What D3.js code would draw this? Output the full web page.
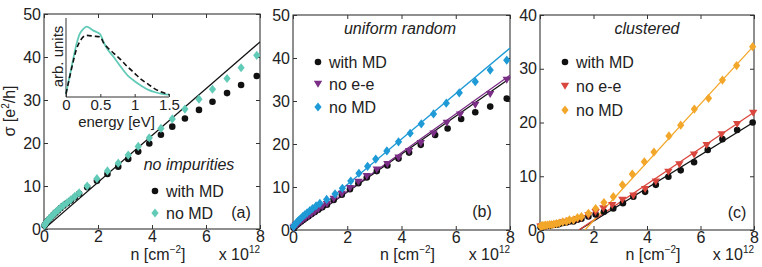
<!DOCTYPE html>
<html>
<head>
<meta charset="utf-8">
<script src="https://cdn.jsdelivr.net/npm/d3@7"></script>
<style>
  body { margin: 0; background: #fff; }
  svg { font-family: "Liberation Sans", Arial, Helvetica, sans-serif; }
  text { fill: #222; }
</style>
</head>
<body>
<div id="chart"></div>
<script>
// conductivity vs carrier density, three panels (a) (b) (c)
var W = 762
var H = 267
var FS = 16

// colors
var cBlack = '#111111'
var cTeal = '#62cbb8'
var cBlue = '#1e9ad6'
var cPurple = '#7a2e85'
var cRed = '#d9463d'
var cOrange = '#f3a72a'

// ---- panel (a): no impurities ----
var aWithMD = [[0.02, 0.8], [0.05, 1.1], [0.09, 1.5], [0.14, 1.9], [0.2, 2.3], [0.27, 2.8], [0.35, 3.3],
  [0.43, 3.8], [0.52, 4.3], [0.62, 4.9], [0.72, 5.4], [0.85, 6.0], [0.99, 6.6], [1.14, 7.4], [1.3, 8.2],
  [1.6, 9.7], [1.96, 11.2], [2.35, 12.8], [2.75, 14.5], [3.12, 16.3], [3.49, 18.0], [3.9, 19.9],
  [4.33, 21.9], [4.75, 23.8], [5.22, 25.7], [5.74, 27.7], [6.24, 29.6], [6.78, 31.6], [7.3, 33.5], [7.88, 35.6]]
var aNoMD = [[0.02, 0.9], [0.05, 1.2], [0.09, 1.6], [0.14, 2.0], [0.2, 2.4], [0.27, 2.9], [0.35, 3.4],
  [0.43, 3.9], [0.52, 4.4], [0.62, 5.0], [0.72, 5.5], [0.85, 6.1], [0.99, 6.8], [1.14, 7.6], [1.3, 8.4],
  [1.6, 10.0], [1.96, 11.7], [2.35, 13.5], [2.75, 15.3], [3.12, 17.2], [3.49, 19.2], [3.9, 21.2],
  [4.33, 23.4], [4.75, 25.6], [5.22, 27.9], [5.74, 30.2], [6.24, 32.5], [6.78, 35.0], [7.3, 37.5], [7.88, 40.4]]
var aFit = [[0, 0], [8, 43.5]]

// inset: energy distribution
var insetNoMD = [[0, 0.04], [0.05, 0.25], [0.1, 0.46], [0.15, 0.66], [0.2, 0.8], [0.25, 0.86], [0.3, 0.89],
  [0.35, 0.87], [0.4, 0.84], [0.45, 0.82], [0.5, 0.79], [0.55, 0.69], [0.6, 0.61], [0.7, 0.5], [0.8, 0.38],
  [0.9, 0.27], [1.0, 0.2], [1.1, 0.14], [1.2, 0.09], [1.3, 0.06], [1.4, 0.04], [1.5, 0.03]]
var insetWithMD = [[0, 0.04], [0.05, 0.24], [0.1, 0.43], [0.15, 0.6], [0.2, 0.7], [0.25, 0.76], [0.3, 0.78],
  [0.4, 0.77], [0.5, 0.76], [0.55, 0.68], [0.6, 0.63], [0.7, 0.55], [0.8, 0.47], [0.9, 0.38], [1.0, 0.3],
  [1.1, 0.22], [1.2, 0.16], [1.3, 0.1], [1.4, 0.06], [1.5, 0.03]]
var insetTicks = [0, 0.5, 1, 1.5]

// ---- panel (b): uniform random ----
var bWithMD = [[0.02, 0.5], [0.05, 0.7], [0.1, 1.0], [0.16, 1.3], [0.22, 1.6], [0.3, 2.0], [0.38, 2.4],
  [0.47, 2.8], [0.57, 3.2], [0.68, 3.7], [0.8, 4.2], [0.93, 4.7], [1.08, 5.3], [1.25, 5.9], [1.5, 7.0],
  [1.8, 8.2], [2.1, 9.5], [2.41, 10.9], [2.72, 12.2], [3.09, 13.7], [3.48, 15.0], [3.89, 16.6],
  [4.28, 18.0], [4.71, 19.8], [5.24, 22.1], [5.7, 23.6], [6.2, 25.8], [6.72, 27.4], [7.27, 28.7], [7.88, 30.6]]
var bNoEE = [[0.02, 0.5], [0.05, 0.7], [0.1, 1.0], [0.16, 1.3], [0.22, 1.6], [0.3, 2.0], [0.38, 2.4],
  [0.47, 2.8], [0.57, 3.2], [0.68, 3.7], [0.8, 4.2], [0.93, 4.8], [1.08, 5.4], [1.25, 6.0], [1.5, 7.2],
  [1.8, 8.4], [2.1, 9.7], [2.41, 11.2], [2.72, 12.5], [3.09, 14.0], [3.48, 15.3], [3.89, 16.8],
  [4.28, 18.3], [4.71, 20.2], [5.18, 22.4], [5.67, 24.9], [6.16, 26.8], [6.72, 29.1], [7.27, 31.6], [7.88, 34.9]]
var bNoMD = [[0.02, 0.8], [0.05, 1.1], [0.09, 1.4], [0.14, 1.8], [0.2, 2.2], [0.27, 2.6], [0.35, 3.1],
  [0.43, 3.5], [0.52, 4.0], [0.62, 4.5], [0.72, 5.0], [0.85, 5.6], [0.99, 6.2], [1.24, 7.1], [1.55, 8.4],
  [1.82, 9.7], [2.13, 11.4], [2.43, 13.2], [2.75, 14.8], [3.05, 16.5], [3.46, 18.4], [3.89, 20.5],
  [4.32, 22.5], [4.73, 24.7], [5.18, 27.0], [5.65, 29.5], [6.13, 31.9], [6.72, 34.5], [7.27, 37.2], [7.88, 39.5]]
var bFitWithMD = [[0, 0], [8, 35.3]]
var bFitNoEE = [[0, 0], [8, 36.0]]
var bFitNoMD = [[0, 0], [8, 42.3]]

// ---- panel (c): clustered ----
var cWithMD = [[0.02, 0.5], [0.06, 0.6], [0.1, 0.6], [0.15, 0.7], [0.2, 0.7], [0.27, 0.8], [0.35, 0.8],
  [0.43, 0.9], [0.52, 1.0], [0.62, 1.0], [0.72, 1.1], [0.85, 1.3], [0.99, 1.4], [1.1, 1.6], [1.25, 1.6],
  [1.4, 1.9], [1.55, 2.1], [1.81, 2.5], [2.08, 2.9], [2.39, 3.4], [2.74, 4.0], [3.1, 5.0], [3.49, 6.2],
  [3.93, 7.1], [4.33, 8.4], [4.8, 9.9], [5.26, 11.1], [5.76, 12.6], [6.27, 14.9], [6.82, 16.9], [7.37, 18.6], [7.95, 20.0]]
var cNoEE = [[0.02, 0.6], [0.06, 0.6], [0.1, 0.7], [0.15, 0.7], [0.2, 0.8], [0.27, 0.8], [0.35, 0.9],
  [0.43, 0.9], [0.52, 1.0], [0.62, 1.1], [0.72, 1.2], [0.85, 1.4], [0.99, 1.5], [1.1, 1.7], [1.25, 1.7],
  [1.4, 2.0], [1.55, 2.2], [1.81, 2.7], [2.08, 3.3], [2.37, 4.0], [2.7, 4.6], [3.08, 5.6], [3.49, 6.4],
  [3.93, 7.6], [4.33, 9.0], [4.8, 10.8], [5.21, 12.2], [5.76, 14.0], [6.23, 15.8], [6.79, 17.8], [7.37, 19.7], [7.97, 21.8]]
var cNoMD = [[0.02, 0.7], [0.06, 0.75], [0.1, 0.8], [0.15, 0.8], [0.2, 0.9], [0.27, 0.9], [0.35, 1.0],
  [0.43, 1.0], [0.52, 1.1], [0.62, 1.2], [0.72, 1.3], [0.85, 1.5], [0.99, 1.6], [1.1, 1.9], [1.25, 1.9],
  [1.4, 2.3], [1.55, 2.5], [1.81, 3.1], [2.08, 4.0], [2.39, 5.1], [2.74, 6.2], [3.08, 8.4], [3.45, 10.4],
  [3.9, 12.7], [4.26, 14.5], [4.82, 17.5], [5.26, 19.5], [5.77, 22.5], [6.3, 24.5], [6.82, 27.9], [7.35, 30.6], [7.95, 34.1]]
var cFitWithMD = [[1.46, 0], [8, 20.1]]
var cFitNoEE = [[1.45, 0], [8, 21.9]]
var cFitNoMD = [[1.68, 0], [8, 34.3]]

var xTicks = [0, 2, 4, 6, 8]

var svg = d3.select('#chart')
  .append('svg')
  .attr('width', W)
  .attr('height', H)

// marker shapes
function markerPath (kind) {
  if (kind === 'diamond') return 'M0,-4.6L3.6,0L0,4.6L-3.6,0Z'
  if (kind === 'triangle') return 'M-4.2,-3.2L4.2,-3.2L0,3.8Z'
  return d3.symbol().type(d3.symbolCircle).size(34)()
}

function drawPanel (p) {
  var x = d3.scaleLinear().domain([0, 8]).range([p.left, p.right])
  var y = d3.scaleLinear().domain([0, p.yMax]).range([p.bottom, p.top])
  var g = svg.append('g').attr('id', 'panel-' + p.id)

  var clipId = 'clip-' + p.id
  g.append('clipPath').attr('id', clipId)
    .append('rect')
    .attr('x', p.left).attr('y', p.top)
    .attr('width', p.right - p.left).attr('height', p.bottom - p.top)

  // ticks on all four sides, pointing in
  var yTicks = d3.range(0, p.yMax + 1, 10)
  g.append('g')
    .attr('transform', 'translate(0,' + p.bottom + ')')
    .call(d3.axisBottom(x).tickValues(xTicks).tickSizeInner(-4).tickSizeOuter(0).tickPadding(2).tickFormat(d3.format('d')))
  g.append('g')
    .attr('transform', 'translate(0,' + p.top + ')')
    .call(d3.axisTop(x).tickValues(xTicks).tickSizeInner(-4).tickSizeOuter(0).tickFormat(''))
  g.append('g')
    .attr('transform', 'translate(' + p.left + ',0)')
    .call(d3.axisLeft(y).tickValues(yTicks).tickSizeInner(-4).tickSizeOuter(0).tickPadding(3).tickFormat(d3.format('d')))
  g.append('g')
    .attr('transform', 'translate(' + p.right + ',0)')
    .call(d3.axisRight(y).tickValues(yTicks).tickSizeInner(-4).tickSizeOuter(0).tickFormat(''))
  g.selectAll('.domain').remove()
  g.selectAll('.tick line').attr('stroke', '#333')
  g.selectAll('.tick text').attr('font-size', FS).attr('fill', '#222')

  g.append('rect')
    .attr('x', p.left).attr('y', p.top)
    .attr('width', p.right - p.left).attr('height', p.bottom - p.top)
    .attr('fill', 'none').attr('stroke', '#333').attr('stroke-width', 1.1)

  var line = d3.line().x(function (d) { return x(d[0]) }).y(function (d) { return y(d[1]) })

  // fitted lines
  p.fits.forEach(function (f) {
    g.append('path')
      .datum(f.data)
      .attr('d', line)
      .attr('clip-path', 'url(#' + clipId + ')')
      .attr('fill', 'none')
      .attr('stroke', f.color)
      .attr('stroke-width', 1.3)
  })

  // markers
  p.series.forEach(function (s) {
    g.append('g').selectAll('path')
      .data(s.data)
      .enter()
      .append('path')
      .attr('d', markerPath(s.kind))
      .attr('transform', function (d) { return 'translate(' + x(d[0]) + ',' + y(d[1]) + ')' })
      .attr('fill', s.color)
  })

  // legend
  p.series.forEach(function (s, i) {
    var item = p.legend[i]
    g.append('path')
      .attr('d', markerPath(s.kind))
      .attr('transform', 'translate(' + item.x + ',' + item.y + ')')
      .attr('fill', s.color)
    g.append('text')
      .attr('x', item.x + 11).attr('y', item.y + 6)
      .attr('font-size', FS)
      .text(item.label)
  })

  if (p.title) {
    g.append('text')
      .attr('x', p.title.x).attr('y', p.title.y)
      .attr('text-anchor', 'middle')
      .attr('font-size', FS)
      .attr('font-style', 'italic')
      .text(p.title.text)
  }

  g.append('text')
    .attr('x', p.tag.x).attr('y', p.tag.y)
    .attr('text-anchor', 'middle')
    .attr('font-size', FS)
    .text(p.tag.text)

  // x axis label and exponent
  var xl = g.append('text')
    .attr('x', (p.left + p.right) / 2 + 6).attr('y', 260)
    .attr('text-anchor', 'middle')
    .attr('font-size', FS)
  xl.append('tspan').text('n [cm')
  xl.append('tspan').attr('dy', -7).attr('font-size', 10).text('\u22122')
  xl.append('tspan').attr('dy', 7).text(']')

  var ex = g.append('text')
    .attr('x', p.right).attr('y', 260)
    .attr('text-anchor', 'end')
    .attr('font-size', FS)
  ex.append('tspan').text('x 10')
  ex.append('tspan').attr('dy', -7).attr('font-size', 10).text('12')
}

drawPanel({
  id: 'a', left: 44, right: 260, top: 14, bottom: 229, yMax: 50,
  fits: [{ data: aFit, color: cBlack }],
  series: [
    { data: aWithMD, kind: 'circle', color: cBlack },
    { data: aNoMD, kind: 'diamond', color: cTeal }
  ],
  legend: [
    { x: 155, y: 191, label: 'with MD' },
    { x: 155, y: 213, label: 'no MD' }
  ],
  title: { x: 189, y: 170, text: 'no impurities' },
  tag: { x: 241, y: 218, text: '(a)' }
})

drawPanel({
  id: 'b', left: 293, right: 510, top: 15, bottom: 230, yMax: 50,
  fits: [
    { data: bFitWithMD, color: cBlack },
    { data: bFitNoEE, color: cPurple },
    { data: bFitNoMD, color: cBlue }
  ],
  series: [
    { data: bWithMD, kind: 'circle', color: cBlack },
    { data: bNoEE, kind: 'triangle', color: cPurple },
    { data: bNoMD, kind: 'diamond', color: cBlue }
  ],
  legend: [
    { x: 318, y: 62, label: 'with MD' },
    { x: 318, y: 84, label: 'no e-e' },
    { x: 318, y: 107, label: 'no MD' }
  ],
  title: { x: 400, y: 34, text: 'uniform random' },
  tag: { x: 482, y: 217, text: '(b)' }
})

drawPanel({
  id: 'c', left: 540, right: 754, top: 15, bottom: 230, yMax: 40,
  fits: [
    { data: cFitWithMD, color: cBlack },
    { data: cFitNoEE, color: cRed },
    { data: cFitNoMD, color: cOrange }
  ],
  series: [
    { data: cWithMD, kind: 'circle', color: cBlack },
    { data: cNoEE, kind: 'triangle', color: cRed },
    { data: cNoMD, kind: 'diamond', color: cOrange }
  ],
  legend: [
    { x: 565, y: 62, label: 'with MD' },
    { x: 565, y: 86, label: 'no e-e' },
    { x: 565, y: 110, label: 'no MD' }
  ],
  title: { x: 647, y: 34, text: 'clustered' },
  tag: { x: 737, y: 218, text: '(c)' }
})

// y axis label
var yl = svg.append('text')
  .attr('transform', 'translate(15,111) rotate(-90)')
  .attr('text-anchor', 'middle')
  .attr('font-size', FS)
yl.append('tspan').text('\u03c3 [e')
yl.append('tspan').attr('dy', -6).attr('font-size', 10).text('2')
yl.append('tspan').attr('dy', 6).text('/h]')

// ---- inset in panel (a) ----
var inset = { left: 66, right: 169, top: 18, bottom: 97 }
var ix = d3.scaleLinear().domain([0, 1.5]).range([inset.left, inset.right])
var iy = d3.scaleLinear().domain([0, 1]).range([inset.bottom, inset.top])
var gi = svg.append('g').attr('id', 'inset')

gi.append('rect')
  .attr('x', inset.left).attr('y', inset.top)
  .attr('width', inset.right - inset.left).attr('height', inset.bottom - inset.top)
  .attr('fill', '#fff')

gi.append('g')
  .attr('transform', 'translate(0,' + inset.bottom + ')')
  .call(d3.axisBottom(ix).tickValues(insetTicks).tickSizeInner(-3).tickSizeOuter(0).tickPadding(2).tickFormat(d3.format('')))
gi.selectAll('.domain').remove()
gi.selectAll('.tick line').attr('stroke', '#333')
gi.selectAll('.tick text').attr('font-size', 15).attr('fill', '#222')

gi.append('path')
  .attr('d', 'M' + inset.left + ',' + inset.top + 'V' + inset.bottom + 'H' + inset.right)
  .attr('fill', 'none').attr('stroke', '#333').attr('stroke-width', 1)

var iline = d3.line().curve(d3.curveMonotoneX)
  .x(function (d) { return ix(d[0]) }).y(function (d) { return iy(d[1]) })

gi.append('path').datum(insetNoMD).attr('d', iline)
  .attr('fill', 'none').attr('stroke', cTeal).attr('stroke-width', 1.8)
gi.append('path').datum(insetWithMD).attr('d', iline)
  .attr('fill', 'none').attr('stroke', cBlack).attr('stroke-width', 1.6)
  .attr('stroke-dasharray', '5,3')

gi.append('text')
  .attr('x', ix(0.75) - 1).attr('y', 127)
  .attr('text-anchor', 'middle').attr('font-size', 15)
  .text('energy [eV]')
gi.append('text')
  .attr('transform', 'translate(' + (inset.left - 3) + ',' + ((inset.top + inset.bottom) / 2 - 1) + ') rotate(-90)')
  .attr('text-anchor', 'middle').attr('font-size', 15)
  .text('arb. units')
</script>
</body>
</html>
